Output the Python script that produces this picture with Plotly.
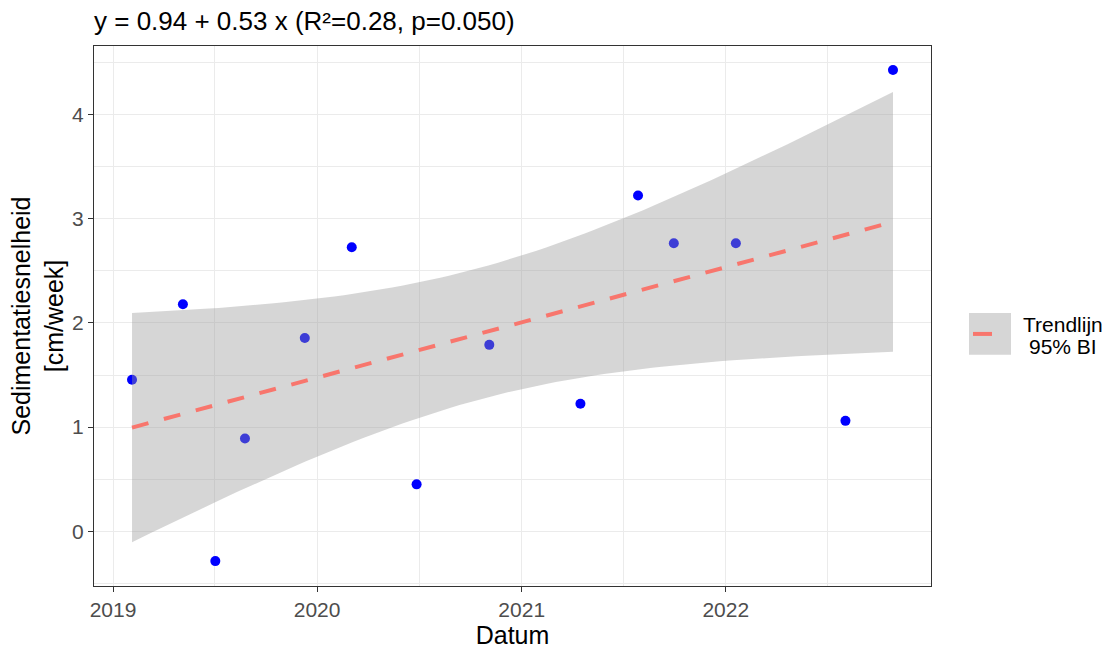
import numpy as np
import pandas as pd
import plotly.graph_objects as go

# ---- data ----
dates = ["2019-02-04", "2019-05-06", "2019-07-03", "2019-08-25", "2019-12-10",
         "2020-03-03", "2020-06-27", "2020-11-04", "2021-04-16", "2021-07-28",
         "2021-09-30", "2022-01-19", "2022-08-03", "2022-10-27"]
rates = [1.455, 2.18, -0.287, 0.89, 1.856,
         2.727, 0.45, 1.79, 1.225, 3.225,
         2.766, 2.766, 1.06, 4.43]
title_text = "y = 0.94 + 0.53 x (R\u00b2=0.28, p=0.050)"
x_ticks = ["2019-01-01", "2020-01-01", "2021-01-01", "2022-01-01"]
x_ticklabels = ["2019", "2020", "2021", "2022"]
y_ticks = [0, 1, 2, 3, 4]

# ---- linear regression with 95% confidence band (like geom_smooth(method="lm")) ----
d = pd.to_datetime(pd.Series(dates))
origin = pd.Timestamp("2019-01-01")
t = ((d - origin).dt.days / 365.25).to_numpy()
y = np.array(rates)
n = len(t)
b1, b0 = np.polyfit(t, y, 1)
resid = y - (b0 + b1 * t)
s = np.sqrt(np.sum(resid ** 2) / (n - 2))
tq = 2.178813  # t(0.975, df=12)
tg = np.linspace(t.min(), t.max(), 80)
fit = b0 + b1 * tg
se = s * np.sqrt(1 / n + (tg - t.mean()) ** 2 / np.sum((t - t.mean()) ** 2))
upper = fit + tq * se
lower = fit - tq * se
grid_dates = origin + pd.to_timedelta(tg * 365.25, unit="D")

font_family = "Liberation Sans, Arial, sans-serif"

fig = go.Figure()
fig.add_trace(go.Scatter(x=d, y=y, mode="markers",
                         marker=dict(color="blue", size=10, line=dict(width=0)),
                         showlegend=False, hoverinfo="x+y"))
poly_x = list(grid_dates) + list(grid_dates[::-1])
poly_y = list(upper) + list(lower[::-1])
fig.add_trace(go.Scatter(x=poly_x, y=poly_y, mode="lines", fill="toself",
                         fillcolor="rgba(153,153,153,0.4)", line=dict(width=0),
                         showlegend=False, hoverinfo="skip"))
fig.add_trace(go.Scatter(x=grid_dates, y=fit, mode="lines",
                         line=dict(color="#F8766D", width=4, dash="17px,16px"),
                         showlegend=False, hoverinfo="skip"))

x_range = [pd.Timestamp("2018-11-28"), pd.Timestamp("2023-01-03")]

fig.update_layout(
    width=1110, height=653,
    margin=dict(l=94, r=179, t=46, b=65),
    paper_bgcolor="white", plot_bgcolor="white",
    font=dict(family=font_family, color="black"),
    showlegend=False,
    xaxis=dict(
        type="date", range=x_range,
        tickmode="array", tickvals=x_ticks, ticktext=x_ticklabels,
        tickfont=dict(size=21, color="#4D4D4D"),
        ticks="outside", ticklen=5, tickcolor="#333333", tickwidth=1.2,
        showgrid=True, gridcolor="#EBEBEB", gridwidth=1.1,
        minor=dict(tickmode="array",
                   tickvals=["2019-07-02", "2020-07-02", "2021-07-02", "2022-07-02"],
                   showgrid=True, gridcolor="#EBEBEB", gridwidth=0.6, ticks=""),
        showline=True, linecolor="#333333", linewidth=1.2, mirror=True,
        zeroline=False,
        title=dict(text="Datum", font=dict(size=25, color="black"), standoff=2),
    ),
    yaxis=dict(
        range=[-0.526, 4.66],
        tickmode="array", tickvals=y_ticks,
        tickfont=dict(size=21, color="#4D4D4D"),
        ticks="outside", ticklen=5, tickcolor="#333333", tickwidth=1.2,
        showgrid=True, gridcolor="#EBEBEB", gridwidth=1.1,
        minor=dict(tickmode="array", tickvals=[-0.5, 0.5, 1.5, 2.5, 3.5, 4.5],
                   showgrid=True, gridcolor="#EBEBEB", gridwidth=0.6, ticks=""),
        showline=True, linecolor="#333333", linewidth=1.2, mirror=True,
        zeroline=False,
        title=dict(text="Sedimentatiesnelheid<br>[cm/week]",
                   font=dict(size=25, color="black"), standoff=1),
    ),
    title=dict(text=title_text, x=94 / 1110, xanchor="left",
               y=1 - 21 / 653, yanchor="middle",
               font=dict(size=26, color="black")),
)

# manual legend (key box + dashed key + label)
fig.add_shape(type="rect", xref="paper", yref="paper",
              x0=(969 - 94) / 837, x1=(1011 - 94) / 837,
              y0=(588 - 356) / 542, y1=(588 - 314) / 542,
              fillcolor="#D6D6D6", line=dict(width=0))
fig.add_shape(type="line", xref="paper", yref="paper",
              x0=(973 - 94) / 837, x1=(992 - 94) / 837,
              y0=(588 - 335) / 542, y1=(588 - 335) / 542,
              line=dict(color="#F8766D", width=4))
fig.add_annotation(xref="paper", yref="paper",
                   x=(1063 - 94) / 837, y=(588 - 326) / 542,
                   text="Trendlijn", showarrow=False,
                   xanchor="center", yanchor="middle",
                   font=dict(size=21, color="black", family=font_family))
fig.add_annotation(xref="paper", yref="paper",
                   x=(1063 - 94) / 837, y=(588 - 348) / 542,
                   text="95% BI", showarrow=False,
                   xanchor="center", yanchor="middle",
                   font=dict(size=21, color="black", family=font_family))

fig.write_html("out.html")
